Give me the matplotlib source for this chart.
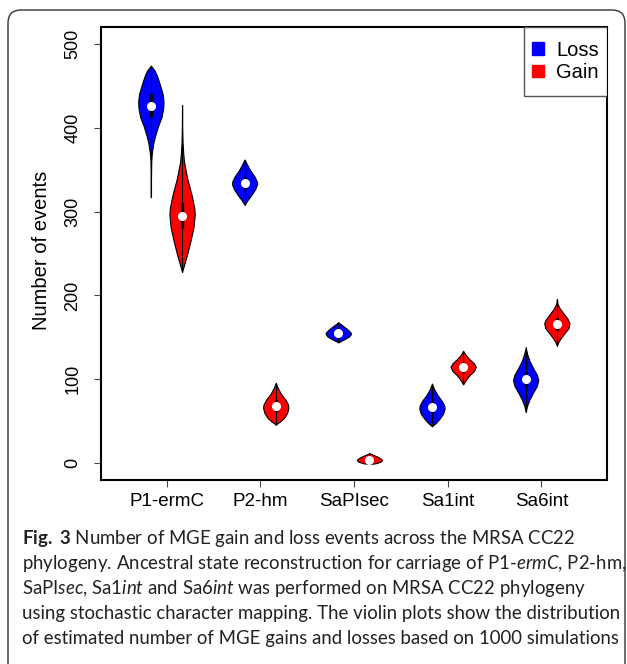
import numpy as np
import matplotlib
matplotlib.use('Agg')
import matplotlib.pyplot as plt
from matplotlib.patches import Patch, FancyBboxPatch, Rectangle
from matplotlib.transforms import IdentityTransform

plt.rcParams['mathtext.fontset'] = 'custom'
plt.rcParams['mathtext.rm'] = 'Lato'
plt.rcParams['mathtext.it'] = 'Lato:italic'
plt.rcParams['mathtext.bf'] = 'Lato:bold'

categories = ['P1-ermC', 'P2-hm', 'SaPIsec', 'Sa1int', 'Sa6int']

# violin outlines: levels (number of events) and relative width
loss_levels = [
    [474, 468, 462, 453, 441, 432, 424, 413, 401, 390, 382, 370, 360, 340, 317],
    [362, 356, 349, 342, 336, 333, 327, 320, 314, 308],
    [168, 164, 160, 156, 154, 151, 148, 144],
    [95, 89, 82, 75, 69, 65, 59, 53, 48, 44],
    [138, 130, 122, 113, 105, 99, 92, 84, 76, 68, 61],
]
loss_widths = [
    [0, 0.3, 0.48, 0.68, 0.92, 1.0, 0.98, 0.85, 0.55, 0.33, 0.2, 0.08, 0.03, 0.01, 0],
    [0, 0.2, 0.45, 0.78, 0.97, 1.0, 0.85, 0.55, 0.25, 0],
    [0, 0.35, 0.7, 0.97, 1.0, 0.85, 0.5, 0],
    [0, 0.15, 0.4, 0.75, 0.97, 1.0, 0.88, 0.6, 0.3, 0],
    [0, 0.12, 0.3, 0.6, 0.9, 1.0, 0.88, 0.58, 0.3, 0.1, 0],
]
loss_median = [426, 334, 155, 67, 100]
loss_q1 = [413, 327, 152, 61, 90]
loss_q3 = [440, 341, 158, 74, 110]

gain_levels = [
    [427, 400, 383, 370, 359, 340, 320, 304, 296, 281, 264, 248, 236, 228],
    [96, 90, 83, 76, 70, 66, 60, 54, 50, 46],
    [12, 10, 8, 6, 4, 2, 0, -1],
    [134, 129, 124, 119, 115, 110, 105, 99, 94],
    [196, 190, 184, 178, 172, 167, 161, 155, 149, 144, 140],
]
gain_widths = [
    [0, 0.01, 0.04, 0.09, 0.16, 0.4, 0.75, 0.97, 1.0, 0.9, 0.65, 0.38, 0.15, 0],
    [0, 0.15, 0.4, 0.75, 0.97, 1.0, 0.9, 0.65, 0.35, 0],
    [0, 0.3, 0.6, 0.85, 1.0, 0.9, 0.5, 0],
    [0, 0.2, 0.5, 0.85, 1.0, 0.85, 0.5, 0.2, 0],
    [0, 0.05, 0.25, 0.55, 0.85, 1.0, 0.92, 0.6, 0.3, 0.1, 0],
]
gain_median = [295, 68, 4, 115, 166]
gain_q1 = [280, 61, 2, 109, 159]
gain_q3 = [311, 75, 6, 121, 173]

caption = [
    r'$\mathbf{Fig.}$ $\mathbf{3}$ Number of MGE gain and loss events across the MRSA CC22',
    r'phylogeny. Ancestral state reconstruction for carriage of P1-$\mathit{ermC}$, P2-hm,',
    r'SaPI$\mathit{sec}$, Sa1$\mathit{int}$ and Sa6$\mathit{int}$ was performed on MRSA CC22 phylogeny',
    'using stochastic character mapping. The violin plots show the distribution',
    'of estimated number of MGE gains and losses based on 1000 simulations',
]


def make_stats(levels, widths, med):
    lv = np.array(levels, dtype=float)
    return dict(coords=lv, vals=np.array(widths, dtype=float), mean=med,
                median=med, min=lv.min(), max=lv.max(), quantiles=np.array([]))


def draw_group(ax, levels, widths, med, q1, q3, pos, color):
    stats = [make_stats(l, w, m) for l, w, m in zip(levels, widths, med)]
    parts = ax.violin(stats, positions=pos, widths=0.27, showmeans=False,
                      showextrema=False, showmedians=False)
    for b in parts['bodies']:
        b.set_facecolor(color)
        b.set_edgecolor('black')
        b.set_linewidth(0.8)
        b.set_alpha(1)
        b.set_zorder(2)
    ax.vlines(pos, [min(l) for l in levels], [max(l) for l in levels],
              color='black', lw=0.8, zorder=3)
    ax.vlines(pos, q1, q3, color='black', lw=2.4, zorder=3)
    ax.plot(pos, med, 'o', color='white', ms=5.5, zorder=4)


fig = plt.figure(figsize=(6.27, 6.64), dpi=100)
W, H = 627, 664
ax = fig.add_axes([101 / W, 1 - 480 / H, (607 - 101) / W, (480 - 27) / H])

x = np.arange(1, len(categories) + 1)
draw_group(ax, loss_levels, loss_widths, loss_median, loss_q1, loss_q3, x - 0.168, '#0000ff')
draw_group(ax, gain_levels, gain_widths, gain_median, gain_q1, gain_q3, x + 0.165, '#ff0000')

ax.set_xlim(0.3, 5.7)
ax.set_ylim(-20, 520)
ax.set_xticks(x)
ax.set_xticklabels(categories, family='Liberation Sans', fontsize=13.5)
ax.set_yticks([0, 100, 200, 300, 400, 500])
ax.set_yticklabels(['0', '100', '200', '300', '400', '500'], family='Liberation Sans',
                   fontsize=13, rotation=90, va='center')
ax.tick_params(length=5, width=0.8, color='#444444')
ax.tick_params(axis='x', pad=4)
ax.tick_params(axis='y', pad=9)
for s in ax.spines.values():
    s.set_linewidth(1.5)

fig.text(42 / W, 1 - 250 / H, 'Number of events', rotation=90, ha='center', va='center',
         family='Liberation Sans', fontsize=14.5)

# legend frame drawn separately so the padding matches
ax_w, ax_h = 607 - 101, 480 - 27
lx0, lx1, ly0, ly1 = 524, 607, 27, 96
ax.add_patch(Rectangle(((lx0 - 101) / ax_w, (480 - ly1) / ax_h), (lx1 - lx0) / ax_w,
                       (ly1 - ly0) / ax_h, transform=ax.transAxes, facecolor='white',
                       edgecolor='#555555', lw=1.0, zorder=5))
leg = ax.legend(handles=[Patch(facecolor='#0000ff', edgecolor='#0000ff', label='Loss'),
                         Patch(facecolor='#ff0000', edgecolor='#ff0000', label='Gain')],
                loc='center', frameon=False,
                bbox_to_anchor=(((lx0 + lx1) / 2 - 101) / ax_w, (480 - (ly0 + ly1) / 2) / ax_h),
                prop={'family': 'Liberation Sans', 'size': 14.5},
                handlelength=0.6, handleheight=0.6, handletextpad=0.6,
                labelspacing=0.15, borderpad=0)
leg.set_zorder(6)

# outer rounded frame, in pixels
frame = FancyBboxPatch((8, -20), 617, 674, boxstyle='round,pad=0,rounding_size=13',
                       transform=IdentityTransform(), facecolor='none',
                       edgecolor='#333333', lw=1.0)
fig.add_artist(frame)

# caption, size fitted to the widest line
r = fig.canvas.get_renderer()
probe = fig.text(0, 0, caption[3], family='Lato', fontsize=12)
size = 12 * 596 / probe.get_window_extent(r).width
probe.remove()
for i, line in enumerate(caption):
    fig.text(22 / W, 1 - (544 + 25 * i) / H, line, family='Lato', fontsize=size,
             ha='left', va='baseline', color='#222222')

fig.savefig('out.png', dpi=100)
